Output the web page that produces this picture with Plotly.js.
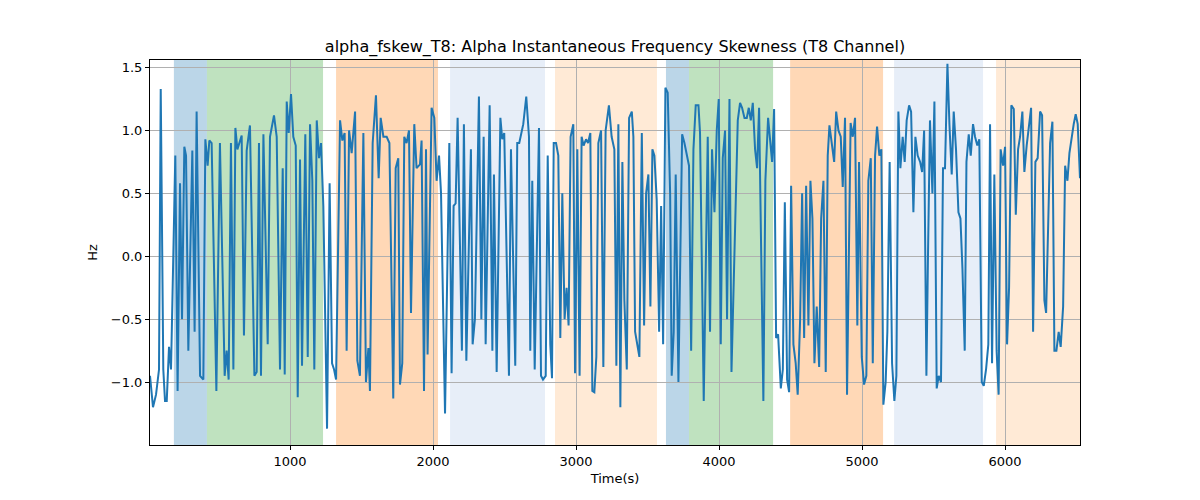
<!DOCTYPE html>
<html>
<head>
<meta charset="utf-8">
<script src="https://cdn.plot.ly/plotly-3.0.1.min.js"></script>
<style>body{margin:0;background:#fff}#chart{width:1200px;height:500px}</style>
</head>
<body>
<div id="chart"></div>
<script>
// time (s) and skewness (Hz)
const times = [21,42,63,84,96,114,126,138,154,168,198,214,231,245,261,273,289,317,333,347,371,394,408,424,436,452,485,510,543,557,571,587,604,618,632,662,678,697,720,751,767,783,797,814,844,860,888,907,930,949,963,977,991,1007,1023,1040,1054,1070,1084,1107,1124,1140,1156,1170,1187,1203,1217,1233,1259,1277,1294,1308,1322,1350,1366,1382,1396,1413,1431,1455,1471,1489,1513,1531,1548,1559,1578,1601,1620,1634,1653,1676,1695,
1722,1739,1757,1769,1785,1799,1815,1832,1846,1869,1885,1909,1920,1937,1951,1962,1990,2009,2025,2042,2056,2084,2114,2130,2144,2158,2172,2202,2216,2233,2265,2277,2293,2321,2338,2354,2368,2396,2415,2426,2445,2471,2484,2498,2531,2545,2575,2589,2603,2631,2652,2671,2680,2694,2711,2741,2755,2769,2788,2802,2820,2832,2844,2860,2876,2890,2904,2920,2934,2948,2962,2981,2993,3009,3025,3039,3053,3070,3084,3100,3114,3128,3142,3156,3175,3191,3207,3230,3249,3268,3282,3296,3310,3324,3338,
3355,3371,3390,3401,3413,3443,3460,3476,3490,3506,3520,3534,3548,3564,3581,3595,3609,3625,3641,3658,3669,3683,3697,3716,3742,3758,3790,3805,3821,3837,3856,3867,3893,3921,3937,3951,3968,3984,3998,4012,4026,4042,4056,4073,4087,4112,4131,4147,4161,4178,4194,4208,4222,4236,4252,4266,4280,4310,4324,4343,4371,4385,4399,4413,4432,4446,4460,4476,4490,4504,4520,4536,4550,4567,4581,4595,4609,4625,4639,4653,4667,4683,4700,4714,4730,4746,4760,4772,4788,4805,4819,4835,4851,4865,4881,4895,4920,4935,4951,4967,
4979,4998,5014,5030,5044,5061,5075,5091,5105,5121,5135,5149,5165,5177,5193,5210,5226,5240,5254,5268,5284,5298,5312,5329,5343,5359,5373,5389,5406,5420,5434,5450,5461,5475,5492,5506,5522,5536,5552,5566,5580,5597,5611,5627,5641,5657,5674,5688,5702,5718,5730,5746,5760,5776,5790,5806,5820,5837,5851,5867,5883,5895,5909,5925,5941,5955,5969,5986,6000,6014,6028,6044,6061,6075,6091,6105,6121,6135,6151,6165,6182,6196,6212,6228,6245,6259,6275,6287,6301,6315,6331,6345,6359,6375,6389,6406,6420,6436,6450,6466,6480,6494,6508,6524];
const skew = [-0.95,-1.2,-1.1,-0.9,1.33,-0.9,-1.15,-1.15,-0.72,-0.9,0.8,-1.07,0.58,-0.5,0.87,0.8,-0.75,0.84,-0.6,1.15,-0.95,-0.98,0.93,0.72,0.92,0.9,-1.07,0.9,-0.95,-0.75,-0.98,0.9,-0.9,1.02,0.85,0.96,-0.63,0.84,1.04,-0.95,-0.92,0.9,-0.95,0.97,-0.7,0.95,1.12,0.95,-0.9,0.7,-0.94,1.23,0.98,1.29,0.95,0.88,-1.12,0.77,-0.87,0.97,-0.8,1.05,0.6,-0.9,1.08,0.78,0.9,0.4,-1.37,0.58,-0.85,-0.9,-0.98,1.08,0.92,0.98,-0.75,1.0,0.82,1.15,-0.83,-0.95,0.98,-1.0,-0.73,-1.07,0.9,1.28,0.62,1.1,0.95,0.95,0.9,
-1.13,0.7,0.78,-1.02,-0.85,0.95,0.9,1.0,-0.45,1.05,0.7,0.73,0.92,-1.07,0.85,-0.78,1.18,1.1,0.6,0.8,0.5,-1.25,0.9,-0.93,0.4,0.42,1.1,-0.75,1.05,-0.83,0.85,-0.7,-0.5,1.27,-0.5,0.95,-0.7,1.2,-0.75,0.65,-0.92,1.1,0.93,0.98,-0.95,0.85,-0.87,0.9,0.9,1.05,1.27,0.95,-0.75,0.6,-0.9,1.02,-0.95,-0.98,-0.95,0.8,-0.7,-0.97,0.9,0.9,0.8,-0.65,0.5,-0.5,-0.25,-0.55,0.95,1.05,-0.93,0.85,-0.95,0.95,0.88,0.93,0.9,0.98,-1.07,-1.08,-0.8,0.9,1.0,-0.88,1.0,1.2,0.95,0.85,-0.87,1.05,-1.2,0.75,-0.35,
-0.9,1.1,1.15,0.95,-0.6,-0.8,0.98,-0.55,0.5,0.65,-0.4,0.85,0.8,0.45,-0.6,0.4,-0.7,1.34,1.3,0.5,-0.95,-0.6,0.65,-1.0,0.97,0.9,0.72,-0.75,0.85,1.2,1.2,0.98,-1.15,0.95,-0.6,0.85,0.35,1.0,1.25,-0.7,0.78,1.0,-0.5,1.25,-0.92,0.35,1.08,1.22,1.18,1.1,1.1,1.18,1.08,1.22,0.85,0.7,1.18,-1.15,0.6,1.1,0.75,1.17,-0.65,-0.62,-1.05,-0.9,0.43,-0.98,-1.08,0.56,-0.7,-0.85,-1.1,-0.5,0.5,-0.65,0.56,-0.55,0.6,0.3,-0.85,-0.4,-0.88,0.3,0.6,-0.92,0.8,1.04,0.9,0.75,1.15,1.0,0.95,0.55,1.1,-1.1,1.06,0.95,1.1,-0.55,
0.75,-0.8,-1.02,-0.95,0.6,0.78,-0.85,0.8,1.03,0.8,0.85,-1.18,-1.0,-0.6,0.75,-0.85,-1.15,-0.95,1.15,0.7,0.95,0.75,1.08,1.2,1.15,0.35,0.95,0.8,0.75,0.67,1.0,-0.95,0.0,1.08,0.5,1.23,-1.05,-0.95,-1.0,0.7,0.7,1.53,1.05,0.65,1.15,0.85,0.35,0.3,-0.1,-0.75,0.75,0.97,0.8,1.05,0.95,0.88,0.93,-1.0,-1.03,-0.9,-0.7,1.05,-0.85,0.65,-0.75,-1.1,0.85,0.72,0.87,-0.7,-0.25,1.2,1.17,0.33,0.85,0.95,1.15,0.67,0.88,1.0,1.18,-0.6,0.75,0.78,1.15,1.12,-0.35,-0.45,0.3,0.9,1.07,-0.75,-0.75,-0.6,-0.72,-0.4,0.72,0.6,0.82,0.95,1.05,1.13,1.05,0.62];

// shaded phases: start, end, colour
const bandStart = [188, 419, 1322, 2119, 2853, 3629, 3790, 4497, 5224, 5937];
const bandEnd   = [419, 1231, 2035, 2783, 3566, 3790, 4378, 5147, 5846, 6524];
const bandColor = [
    'rgba(31,119,180,0.3)', 'rgba(44,160,44,0.3)', 'rgba(255,127,14,0.3)',
    'rgba(174,199,232,0.3)', 'rgba(255,187,120,0.3)',
    'rgba(31,119,180,0.3)', 'rgba(44,160,44,0.3)', 'rgba(255,127,14,0.3)',
    'rgba(174,199,232,0.3)', 'rgba(255,187,120,0.3)'
];

const shapes = bandStart.map((s, i) => ({
    type: 'rect', xref: 'x', yref: 'paper', layer: 'below',
    x0: s, x1: bandEnd[i], y0: 0, y1: 1,
    fillcolor: bandColor[i], line: { width: 0 }
}));

const trace = {
    x: times, y: skew, type: 'scatter', mode: 'lines',
    line: { color: '#1f77b4', width: 2 }
};

const axis = {
    showgrid: true, gridcolor: '#b0b0b0', gridwidth: 1,
    showline: true, linecolor: '#000', linewidth: 1, mirror: true,
    ticks: 'outside', ticklen: 4, tickcolor: '#000', zeroline: false,
    tickfont: { size: 13, color: '#000' }
};

Plotly.newPlot('chart', [trace], {
    width: 1200, height: 500,
    paper_bgcolor: '#fff', plot_bgcolor: '#fff',
    font: { family: 'DejaVu Sans, sans-serif', color: '#000' },
    margin: { l: 150, r: 120, t: 60, b: 55 },
    showlegend: false,
    title: { text: 'alpha_fskew_T8: Alpha Instantaneous Frequency Skewness (T8 Channel)', font: { size: 16 },
        x: 0.5, xref: 'paper', y: 0.908, yanchor: 'middle' },
    xaxis: { ...axis, range: [21, 6524], tickvals: [1000, 2000, 3000, 4000, 5000, 6000],
        title: { text: 'Time(s)', font: { size: 13 }, standoff: 6 } },
    yaxis: { ...axis, range: [-1.5, 1.56], tickvals: [-1, -0.5, 0, 0.5, 1, 1.5], tickformat: '.1f',
        title: { text: 'Hz', font: { size: 13 }, standoff: 10 } },
    shapes: shapes
}, { displayModeBar: false });
</script>
</body>
</html>
